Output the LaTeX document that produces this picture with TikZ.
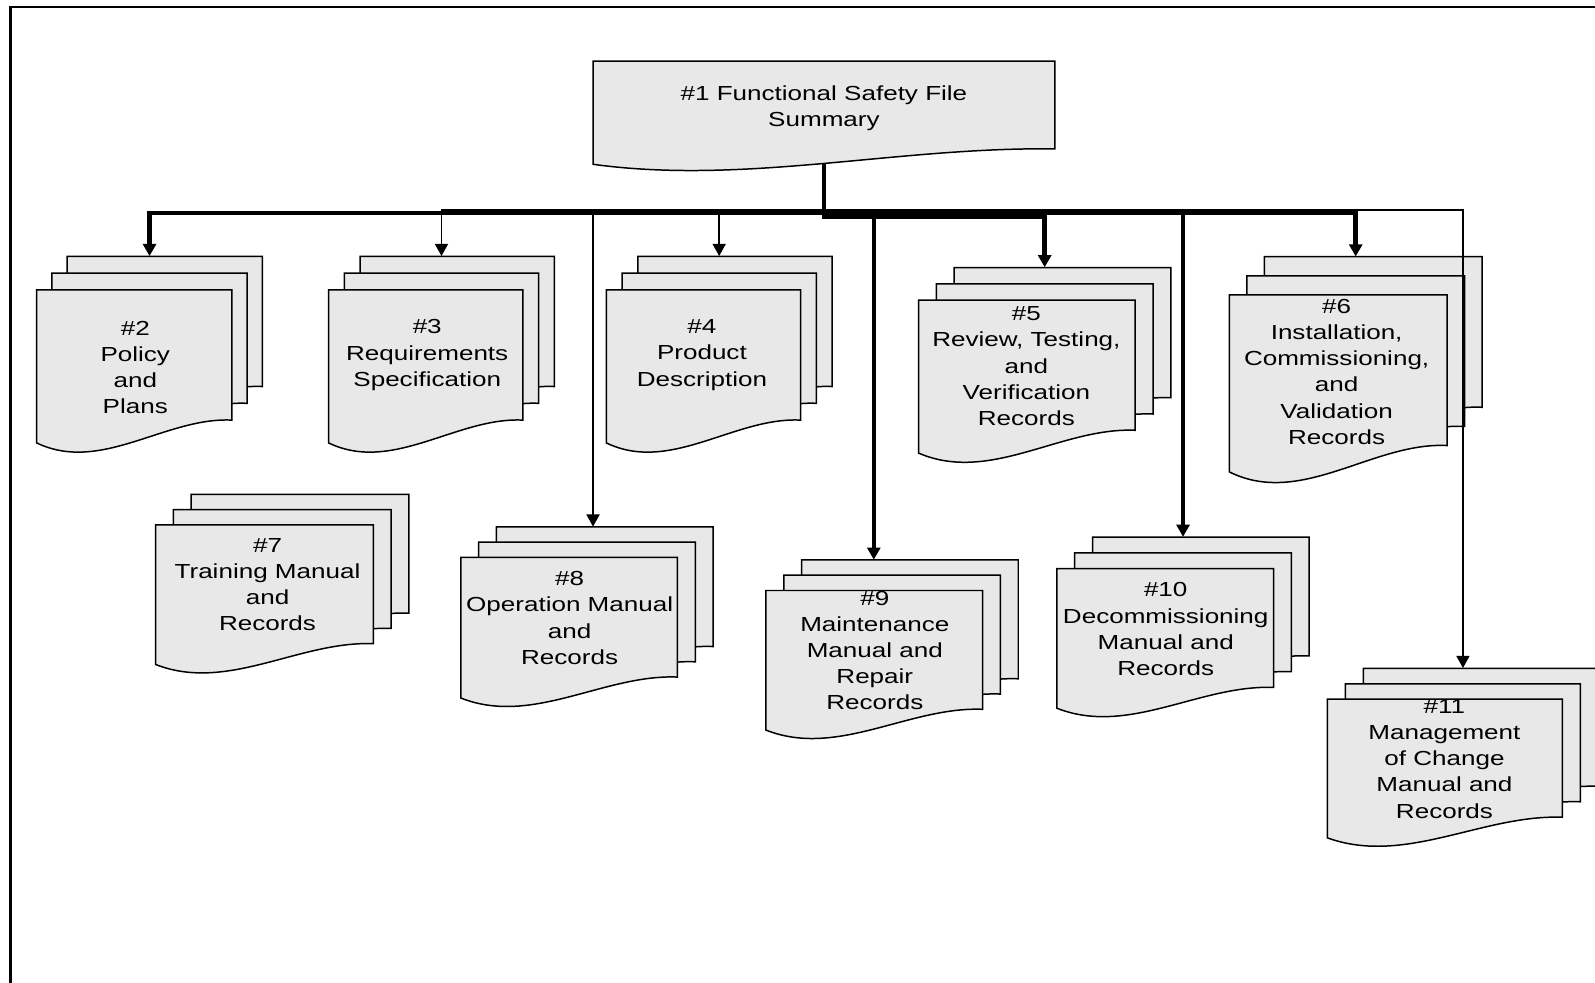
\documentclass[tikz,border=0pt]{standalone}
\usepackage{fontspec}
\setmainfont{Liberation Sans}[FakeStretch=1.28]
\usetikzlibrary{arrows.meta,calc,fit}
\definecolor{docfill}{RGB}{232,232,232}

\tikzset{
  page/.style={fill=docfill, draw=black, line width=1.1pt, line join=miter},
  doctext/.style={align=center, font=\fontsize{15}{19.3}\selectfont, inner sep=0pt},
  stackbox/.style={inner sep=0pt, draw=none},
  majorlink/.style={line width=3.3pt, -{Triangle[width=9.6pt,length=9pt]}},
  minorlink/.style={line width=1.3pt, -{Triangle[width=9.6pt,length=9pt]}},
  framerule/.style={line width=2pt},
}

% one sheet with a wavy lower edge: left x, top y, width, height
\newcommand\docpage[4]{%
  \filldraw[page] (#1,#2) -- (#1+#3,#2) -- (#1+#3,#2+0.8*#4)
    .. controls (#1+0.66*#3,#2+0.78*#4) and (#1+0.33*#3,#2+1.13*#4) .. (#1,#2+0.94*#4) -- cycle;
}
% three stacked sheets: name, front x, back top y, width, height, x step, y step
\newcommand\docstack[7]{%
  \docpage{#2+2*#6}{#3}{#4}{#5}
  \docpage{#2+#6}{#3+#7}{#4}{#5}
  \docpage{#2}{#3+2*#7}{#4}{#5}
  \path (#2,#3) coordinate (#1-nw) (#2+#4+2*#6,#3+2*#7+#5) coordinate (#1-se);
  \node[stackbox, fit=(#1-nw)(#1-se)] (#1) {};
}

\begin{document}
\begin{tikzpicture}[x=0.75pt,y=-0.75pt]
\useasboundingbox (0,0) rectangle (1568,966);
\clip (0,0) rectangle (1568,966);

% frame
\draw[framerule] (10,980) -- (10,7) -- (1580,7);

% summary sheet
\docpage{583}{60}{454}{108}
\path (583,60) coordinate (n1-nw) (1037,60+0.935*108) coordinate (n1-se);
\node[stackbox, fit=(n1-nw)(n1-se)] (n1) {};
\node[doctext] (t1) at (810,106.5) {\#1 Functional Safety File\\Summary};

% document stacks
\docstack{n2}{36}{252}{192}{160}{15}{16.5}
\node[doctext] (t2) at (133,361.5) {\#2\\Policy\\and\\Plans};

\docstack{n3}{323}{252}{191}{160}{15.5}{16.5}
\node[doctext] (t3) at (420,349) {\#3\\Requirements\\Specification};

\docstack{n4}{596}{252}{191}{160}{15.5}{16.5}
\node[doctext] (t4) at (690,349) {\#4\\Product\\Description};

\docstack{n5}{903}{263}{213}{160}{17.5}{16}
\node[doctext] (t5) at (1009,360) {\#5\\Review, Testing,\\and\\Verification\\Records};

\docstack{n6}{1208.5}{252.4}{214}{185}{17.25}{18.8}
\node[doctext] (t6) at (1314,365.5) {\#6\\Installation,\\Commissioning,\\and\\Validation\\Records};

\docstack{n7}{153}{486}{214}{146}{17.5}{15}
\node[doctext] (t7) at (263,574.5) {\#7\\Training Manual\\and\\Records};

\docstack{n8}{453}{518}{213}{147}{17.5}{15}
\node[doctext] (t8) at (560,607.5) {\#8\\Operation Manual\\and\\Records};

\docstack{n9}{753}{550.5}{213}{146}{17.5}{15}
\node[doctext] (t9) at (860,639.5) {\#9\\Maintenance\\Manual and\\Repair\\Records};

\docstack{n10}{1039}{528}{213}{146}{17.5}{15.5}
\node[doctext] (t10) at (1146,618.5) {\#10\\Decommissioning\\Manual and\\Records};

\docstack{n11}{1305}{657}{231}{145}{17.7}{15.2}
\node[doctext] (t11) at (1420,746) {\#11\\Management\\of Change\\Manual and\\Records};

% distribution lines
\coordinate (busT) at (0,209.5);
\coordinate (busS) at (0,206.5);
\coordinate (busE) at (0,213.5);

\draw[minorlink] (n1.south) -- (n1.south |- busS) -| (n3.north);
\draw[minorlink] (n1.south) -- (n1.south |- busS) -| (n4.north);
\draw[minorlink] (n1.south) -- (n1.south |- busS) -| ($(n8.north)+(6,0)$);
\draw[minorlink] (n1.south) -- (n1.south |- busS) -| (n11.north);
\draw[majorlink] (n1.south) -- (n1.south |- busT) -| (n2.north);
\draw[majorlink] (n1.south) -- (n1.south |- busT) -| ($(n9.north)+(-18,0)$);
\draw[majorlink] (n1.south) -- (n1.south |- busT) -| (n10.north);
\draw[majorlink] (n1.south) -- (n1.south |- busT) -| (n6.north);
\draw[majorlink] (n1.south) -- (n1.south |- busE) -| (n5.north);
\end{tikzpicture}
\end{document}
